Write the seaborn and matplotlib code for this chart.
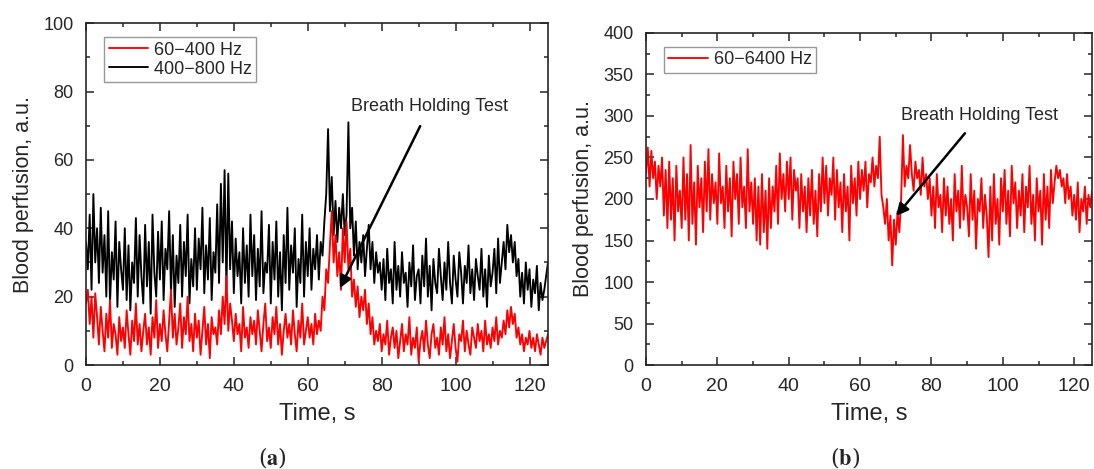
import numpy as np
import pandas as pd
import matplotlib
matplotlib.use("Agg")
import matplotlib.pyplot as plt
import seaborn as sns
from matplotlib.ticker import MultipleLocator

sns.set_style("ticks")
plt.rcParams['font.family'] = ['Liberation Sans', 'DejaVu Sans']
plt.rcParams['mathtext.fontset'] = 'stix'

# time axis, 0.5 s steps
time = np.arange(0, 125.01, 0.5)

# (a) 400-800 Hz band
band_400_800 = [
    36, 28, 44, 22, 50, 30, 40, 24, 46, 27,
    38, 20, 45, 18, 33, 25, 42, 17, 36, 28,
    22, 40, 19, 35, 16, 30, 24, 43, 20, 38,
    26, 18, 41, 23, 36, 15, 44, 27, 20, 39,
    25, 42, 19, 34, 28, 45, 21, 38, 17, 32,
    24, 41, 20, 36, 26, 44, 18, 31, 23, 40,
    22, 37, 28, 46, 21, 35, 25, 43, 19, 33,
    27, 47, 24, 53, 30, 57, 22, 56, 28, 42,
    21, 37, 26, 33, 18, 40, 24, 35, 20, 44,
    26, 38, 19, 34, 23, 45, 21, 30, 27, 41,
    18, 36, 25, 42, 20, 33, 16, 38, 24, 46,
    22, 35, 27, 40, 17, 31, 24, 44, 20, 36,
    26, 40, 22, 34, 28, 38, 25, 36, 32, 42,
    50, 69, 45, 55, 38, 48, 36, 46, 40, 50,
    38, 44, 71, 40, 46, 32, 42, 28, 36, 30,
    38, 26, 34, 41, 28, 36, 24, 33, 27, 30,
    22, 31, 19, 34, 24, 28, 18, 36, 22, 29,
    20, 33, 24, 27, 17, 30, 23, 35, 19, 26,
    28, 18, 32, 23, 37, 20, 29, 16, 31, 24,
    21, 34, 26, 19, 30, 22, 36, 24, 18, 32,
    25, 20, 33, 27, 18, 29, 24, 35, 21, 28,
    19, 31, 26, 22, 34, 20, 28, 17, 32, 23,
    27, 34, 21, 37, 24, 30, 36, 28, 41, 33,
    38, 30, 36, 26, 31, 20, 27, 18, 30, 22,
    28, 17, 25, 21, 29, 16, 24, 19, 22, 26,
    30,
]

# (a) 60-400 Hz band
band_60_400 = [
    18, 22, 12, 20, 8, 21, 14, 6, 17, 10,
    4, 15, 8, 19, 5, 12, 9, 3, 14, 7,
    11, 5, 16, 9, 3, 13, 7, 18, 6, 12,
    4, 10, 15, 6, 11, 3, 14, 8, 19, 5,
    12, 7, 16, 9, 4, 13, 22, 8, 15, 6,
    11, 18, 5, 14, 9, 20, 7, 12, 4, 15,
    8, 13, 3, 10, 17, 6, 12, 2, 14, 9,
    11, 6, 16, 9, 20, 12, 26, 10, 18, 13,
    7, 15, 9, 12, 4, 17, 8, 11, 5, 14,
    9, 13, 6, 16, 10, 4, 12, 18, 7, 11,
    5, 14, 9, 17, 6, 12, 3, 10, 15, 8,
    12, 6, 16, 9, 4, 13, 8, 18, 6, 10,
    14, 8, 12, 6, 15, 9, 13, 10, 20, 16,
    28, 24, 35, 45, 30, 38, 26, 33, 22, 40,
    30, 42, 28, 34, 20, 25, 17, 23, 14, 20,
    16, 22, 12, 18, 9, 14, 6, 10, 7, 12,
    4, 9, 6, 13, 3, 8, 11, 5, 10, 2,
    7, 12, 4, 9, 6, 14, 3, 8, 5, 11,
    1, 7, 10, 4, 13, 6, 2, 9, 12, 5,
    8, 3, 11, 6, 14, 4, 9, 2, 7, 12,
    5, 1, 9, 7, 13, 4, 10, 6, 3, 11,
    8, 5, 12, 7, 10, 4, 13, 6, 9, 5,
    11, 7, 14, 6, 10, 8, 13, 9, 16, 11,
    17, 12, 15, 8, 11, 6, 9, 4, 8, 6,
    10, 5, 8, 4, 9, 6, 3, 8, 5, 7,
    9,
]

# (b) 60-6400 Hz band
band_60_6400 = [
    230, 262, 215, 258, 225, 245, 200, 240, 215, 250,
    180, 235, 165, 245, 175, 225, 150, 240, 185, 210,
    165, 250, 175, 230, 150, 265, 170, 220, 145, 240,
    190, 225, 160, 245, 185, 260, 175, 230, 195, 220,
    170, 255, 195, 215, 165, 240, 185, 225, 155, 245,
    200, 230, 170, 250, 190, 215, 165, 260, 185, 220,
    170, 225, 150, 215, 145, 230, 160, 210, 140, 225,
    165, 215, 185, 240, 170, 255, 200, 230, 185, 245,
    200, 250, 175, 235, 210, 225, 165, 230, 185, 215,
    160, 225, 180, 235, 170, 210, 155, 230, 185, 250,
    195, 240, 180, 225, 205, 250, 175, 235, 190, 220,
    160, 230, 185, 215, 150, 240, 195, 225, 180, 245,
    200, 235, 210, 245, 190, 230, 220, 250, 215, 240,
    225, 275, 205, 190, 170, 200, 150, 180, 120, 175,
    145, 185, 160, 200, 277, 215, 240, 225, 265, 230,
    210, 245, 225, 235, 205, 250, 215, 230, 200, 225,
    180, 215, 165, 230, 190, 205, 160, 225, 180, 215,
    170, 200, 150, 230, 185, 210, 165, 240, 175, 205,
    190, 155, 230, 175, 210, 140, 200, 185, 225, 165,
    205, 180, 130, 215, 150, 230, 170, 200, 145, 225,
    185, 235, 170, 210, 155, 240, 195, 220, 165, 210,
    180, 230, 160, 215, 190, 240, 170, 205, 150, 225,
    185, 210, 145, 230, 175, 215, 165, 235, 195, 220,
    240, 225, 235, 215, 225, 195, 230, 200, 215, 180,
    205, 175, 220, 160, 200, 185, 215, 170, 205, 190,
    210,
]

fig = plt.figure(figsize=(10.94, 4.69), dpi=100)
ax1 = fig.add_axes([0.0786, 0.2217, 0.4223, 0.729])
ax2 = fig.add_axes([0.5905, 0.2217, 0.4077, 0.708])

lw = 1.35
sns.lineplot(x=time, y=band_400_800, color='black', lw=lw, label='400\u2212800 Hz', ax=ax1)
sns.lineplot(x=time, y=band_60_400, color='#ff0000', lw=lw, label='60\u2212400 Hz', ax=ax1)
sns.lineplot(x=time, y=band_60_6400, color='#ff0000', lw=lw, label='60\u22126400 Hz', ax=ax2)

leg_kw = dict(loc='upper left', bbox_to_anchor=(0.02, 0.985), fontsize=13,
              frameon=True, fancybox=False, edgecolor='gray',
              handlelength=2.2, handletextpad=0.3, borderpad=0.25, labelspacing=0.1)
h, l = ax1.get_legend_handles_labels()
ax1.legend(h[::-1], l[::-1], **leg_kw)
ax2.legend(**leg_kw)

narrow = ['Liberation Sans Narrow', 'Liberation Sans', 'DejaVu Sans']
for ax, ymax, ymaj in [(ax1, 100, 20), (ax2, 400, 50)]:
    ax.set_xlim(0, 125)
    ax.set_ylim(0, ymax)
    ax.xaxis.set_major_locator(MultipleLocator(20))
    ax.xaxis.set_minor_locator(MultipleLocator(10))
    ax.yaxis.set_major_locator(MultipleLocator(ymaj))
    ax.yaxis.set_minor_locator(MultipleLocator(ymaj / 2))
    ax.tick_params(which='both', direction='in', top=True, right=True, width=1.1,
                   labelsize=13, pad=9)
    ax.tick_params(which='major', length=6)
    ax.tick_params(which='minor', length=3)
    for lab in ax.get_xticklabels():
        lab.set_family(narrow)
        lab.set_fontsize(14)
    for s in ax.spines.values():
        s.set_linewidth(1.2)
    ax.set_xlabel('Time, s', fontsize=17, labelpad=6, family=narrow)
    ax.set_ylabel('Blood perfusion, a.u.', fontsize=15.5, labelpad=7)

arrow = dict(arrowstyle='-|>', color='black', lw=1.8, mutation_scale=18,
             shrinkA=6, shrinkB=0)
ax1.annotate('Breath Holding Test', xy=(68.7, 22.5), xytext=(93, 75.5),
             ha='center', va='center', fontsize=13, arrowprops=arrow)
ax2.annotate('Breath Holding Test', xy=(70.1, 179.5), xytext=(93.6, 301),
             ha='center', va='center', fontsize=13, arrowprops=arrow)

fig.text(272 / 1094, 1 - 457 / 469, r'($\mathbf{a}$)', ha='center', va='center',
         fontsize=16, family='serif')
fig.text(845 / 1094, 1 - 457 / 469, r'($\mathbf{b}$)', ha='center', va='center',
         fontsize=16, family='serif')

fig.savefig('out.png', dpi=100)
